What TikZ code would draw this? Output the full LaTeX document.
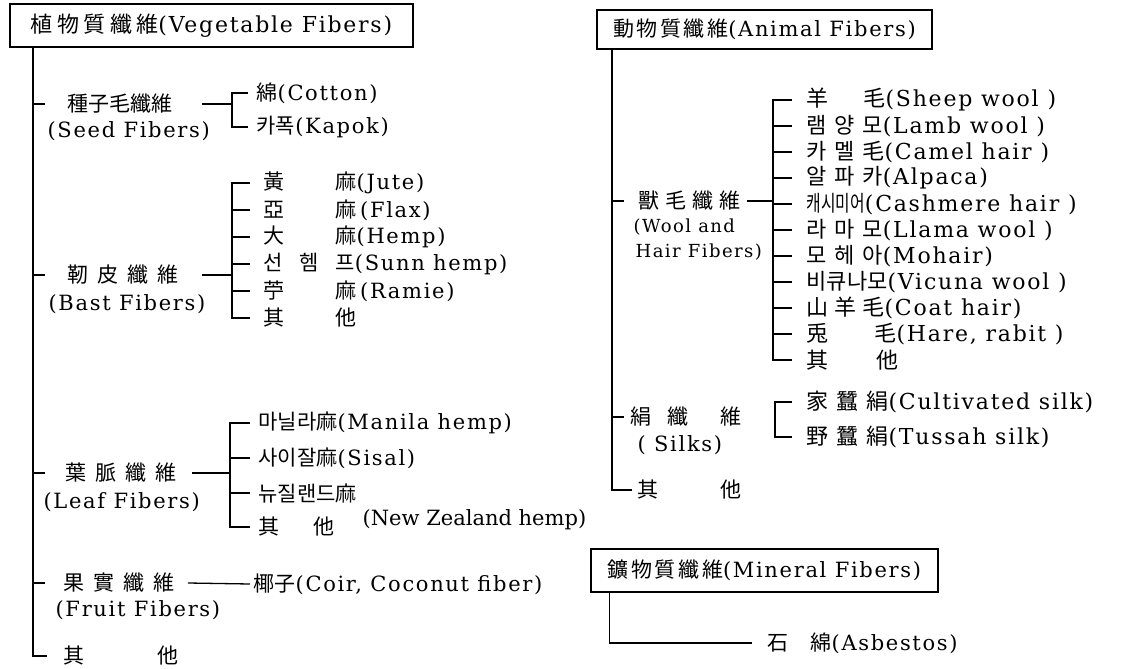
\documentclass[tikz,border=0pt]{standalone}
\usepackage{graphicx}
\usepackage{fontspec}
\setmainfont{DejaVu Serif}[LetterSpace=8]
\newfontfamily\tightserif{DejaVu Serif}[LetterSpace=0]
\newfontfamily\cjk{Noto Sans CJK KR}
\newfontfamily\cjkw{Noto Sans CJK KR}[LetterSpace=20]
\newfontfamily\cjkm{Noto Sans CJK KR}[LetterSpace=12]
\newcommand\kk[1]{{\cjk #1}}
\newcommand\kw[1]{{\cjkw #1}}
\newcommand\km[1]{{\cjkm #1}}
\newcommand\cw[2]{\makebox[#1pt][l]{#2}}
\begin{document}
\begin{tikzpicture}[x=1pt,y=-1pt,line width=1.3pt,
  lab/.style={anchor=west,inner sep=0pt,font=\fontsize{21}{25}\selectfont},
  labr/.style={anchor=west,inner sep=0pt,font=\fontsize{22}{25}\selectfont},
  labs/.style={anchor=west,inner sep=0pt,font=\fontsize{18}{22}\selectfont},
  titlebox/.style={draw,inner sep=0pt,font=\fontsize{22}{25}\selectfont},
  titleboxr/.style={draw,inner sep=0pt,font=\fontsize{21}{25}\selectfont}]
\useasboundingbox (0,0) rectangle (1122,669);
% ================= Vegetable fibers =================
\node[titlebox,minimum width=403pt,minimum height=43pt] (veg) at (211.5,25.5) {\kw{植物質纖維}(Vegetable Fibers)};
\coordinate (LT) at (33,47);
% seed
\node[lab] (seedA) at (67,104) {\kk{種子毛纖維}};
\node[lab] (seedB) at (47,131) {(Seed Fibers)};
\node[lab] (cotton) at (256,93) {\kk{綿}(Cotton)};
\node[lab] (kapok) at (256,127) {\kk{카폭}(Kapok)};
% bast
\node[lab] (bastA) at (67,275) {\kk{靭\hspace{9pt}皮\hspace{9pt}纖\hspace{9pt}維}};
\node[lab] (bastB) at (48,304) {(Bast Fibers)};
\node[lab] (jute) at (263,183) {\kk{\cw{72}{黃}麻}(Jute)};
\node[lab] (flax) at (263,210) {\kk{\cw{72}{亞}麻}\,(Flax)};
\node[lab] (hemp) at (263,237) {\kk{\cw{72}{大}麻}(Hemp)};
\node[lab] (sunn) at (263,264) {\kk{\cw{36}{선}\cw{36}{헴}프}(Sunn hemp)};
\node[lab] (ramie) at (263,291) {\kk{\cw{72}{苧}麻}\,(Ramie)};
\node[lab] (bother) at (263,318) {\kk{\cw{72}{其}他}};
% leaf
\node[lab] (leafA) at (65,473) {\kk{葉\hspace{9pt}脈\hspace{9pt}纖\hspace{9pt}維}};
\node[lab] (leafB) at (43,502) {(Leaf Fibers)};
\node[lab] (manila) at (258,423) {\kk{마닐라麻}(Manila hemp)};
\node[lab] (sisal) at (258,458) {\kk{사이잘麻}(Sisal)};
\node[lab] (nz) at (258,493) {\kk{뉴질랜드麻}};
\node[lab] (lother) at (258,527) {\kk{\cw{55}{其}他}};
\node[lab] (nzh) at (362,520) {\tightserif (New Zealand hemp)};
% fruit
\node[lab] (fruitA) at (63,583) {\kk{果\hspace{9pt}實\hspace{9pt}纖\hspace{9pt}維}};
\node[lab] (fruitB) at (55,610) {(Fruit Fibers)};
\node[lab] (coir) at (253,584) {\kk{椰子}(Coir, Coconut fiber)};
% other
\node[lab] (vother) at (63,656) {\kk{\cw{94}{其}他}};
% trunk and ticks
\draw (LT) -- (LT |- vother.west) -- ++(14,0);
\foreach \n in {seedA,bastA,leafA,fruitA} \draw (LT |- \n.west) -- ++(12,0);
% seed bracket
\coordinate (sS) at (232,0);
\draw ([xshift=135pt]seedA.west) -- (sS |- seedA.west);
\draw ([xshift=-8pt]cotton.west) -| (sS |- kapok.west) -- ([xshift=-8pt]kapok.west);
% bast bracket
\coordinate (sB) at (232,0);
\draw ([xshift=135pt]bastA.west) -- (sB |- bastA.west);
\draw ([xshift=-13pt]jute.west) -| (sB |- bother.west) -- ([xshift=-13pt]bother.west);
\foreach \n in {flax,hemp,sunn,ramie} \draw ([xshift=-13pt]\n.west) -- (sB |- \n.west);
% leaf bracket
\coordinate (sL) at (230,0);
\draw ([xshift=127pt]leafA.west) -- (sL |- leafA.west);
\draw ([xshift=-8pt]manila.west) -| (sL |- lother.west) -- ([xshift=-8pt]lother.west);
\foreach \n in {sisal,nz} \draw ([xshift=-8pt]\n.west) -- (sL |- \n.west);
% fruit
\draw ([xshift=125pt]fruitA.west) -- ([xshift=-3pt]coir.west);
% ================= Animal fibers =================
\node[titleboxr,minimum width=335pt,minimum height=39pt] (ani) at (764.5,29.5) {\km{動物質纖維}(Animal Fibers)};
\coordinate (RT) at (612,49);
% wool
\node[lab] (woolA) at (638,201) {\kk{獸\hspace{6pt}毛\hspace{6pt}纖\hspace{6pt}維}};
\node[labs] (woolB) at (633,227) {(Wool and};
\node[labs] (woolC) at (635,252) {Hair Fibers)};
\node[labr] (sheep) at (806,100) {\kk{\cw{57}{羊}毛}(Sheep wool )};
\node[labr] (lamb) at (806,126) {\kk{\cw{28}{램}\cw{28}{양}모}(Lamb wool )};
\node[labr] (camel) at (806,152) {\kk{\cw{28}{카}\cw{28}{멜}毛}(Camel hair )};
\node[labr] (alpaca) at (806,178) {\kk{\cw{28}{알}\cw{28}{파}카}(Alpaca)};
\node[labr] (cash) at (806,204) {\kk{\scalebox{0.72}[1]{캐시미어}}(Cashmere hair )};
\node[labr] (llama) at (806,230) {\kk{\cw{28}{라}\cw{28}{마}모}(Llama wool )};
\node[labr] (mohair) at (806,256) {\kk{\cw{28}{모}\cw{28}{헤}아}(Mohair)};
\node[labr] (vicuna) at (806,282) {\kk{비큐나모}(Vicuna wool )};
\node[labr] (goat) at (806,308) {\kk{\cw{28}{山}\cw{28}{羊}毛}(Coat hair)};
\node[labr] (hare) at (806,334) {\kk{\cw{68}{兎}毛}(Hare, rabit )};
\node[labr] (wother) at (806,360) {\kk{\cw{70}{其}他}};
% silk
\node[lab] (silkA) at (630,417) {\kk{\cw{37}{絹}\cw{53}{纖}維}};
\node[lab] (silkB) at (637,445) {( Silks)};
\node[labr] (cult) at (806,402) {\kk{家\hspace{8pt}蠶\hspace{8pt}絹}(Cultivated silk)};
\node[labr] (tussah) at (806,437) {\kk{野\hspace{8pt}蠶\hspace{8pt}絹}(Tussah silk)};
% other
\node[lab] (rother) at (637,490) {\kk{\cw{83}{其}他}};
% trunk
\draw (RT) -- (RT |- rother.west) -- ++(20,0);
\foreach \n in {woolA,silkA} \draw (RT |- \n.west) -- ++(12,0);
% wool bracket
\coordinate (sW) at (773,0);
\draw ([xshift=109pt]woolA.west) -- (sW |- woolA.west);
\draw ([xshift=-14pt]sheep.west) -| (sW |- wother.west) -- ([xshift=-14pt]wother.west);
\foreach \n in {lamb,camel,alpaca,cash,llama,mohair,vicuna,goat,hare} \draw ([xshift=-14pt]\n.west) -- (sW |- \n.west);
% silk bracket
\coordinate (sK) at (775,0);
\draw ([xshift=-14pt]cult.west) -| (sK |- tussah.west) -- ([xshift=-14pt]tussah.west);
% ================= Mineral fibers =================
\node[titleboxr,minimum width=347pt,minimum height=43pt] (mineral) at (764.5,570.5) {\km{鑛物質纖維}(Mineral Fibers)};
\node[lab] (asb) at (767,643) {\kk{\cw{43}{石}綿}(Asbestos)};
\draw ([xshift=19pt]mineral.south west) |- ([xshift=-15pt]asb.west);
\end{tikzpicture}
\end{document}
